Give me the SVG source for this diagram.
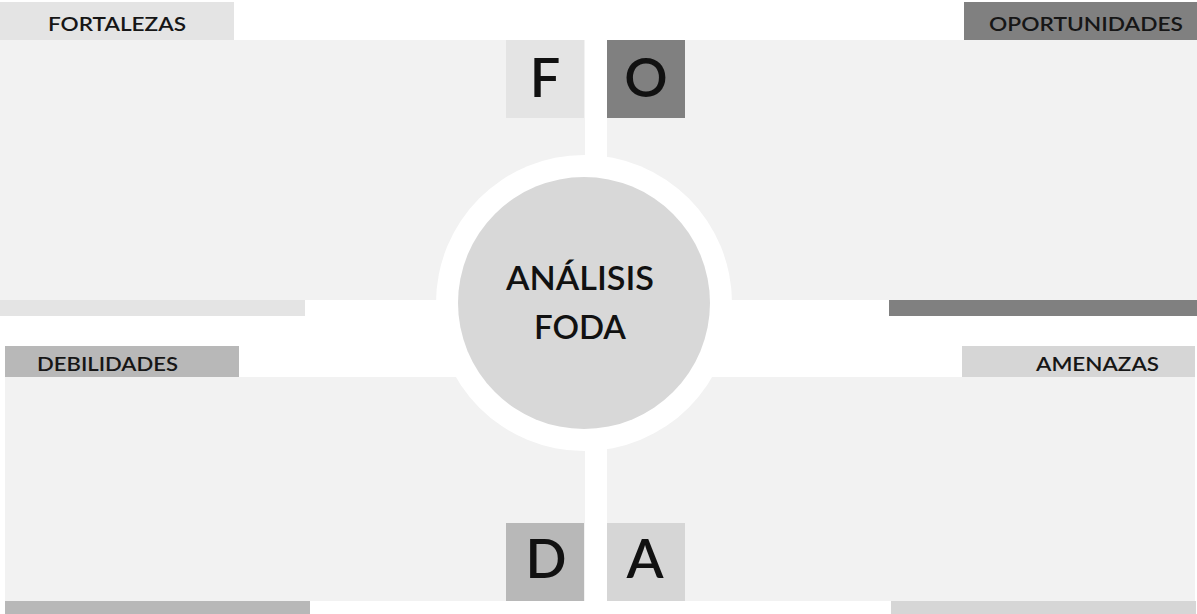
<svg xmlns="http://www.w3.org/2000/svg" width="1197" height="614" viewBox="0 0 1197 614">
<style>
.panel{fill:#f2f2f2}
.hdr{font-family:Lato,"Liberation Sans",sans-serif;font-weight:600;font-size:20px;fill:#161616}
.big{font-family:Lato,"Liberation Sans",sans-serif;font-weight:600;font-size:54px;fill:#111;text-anchor:middle}
.center{font-family:Lato,"Liberation Sans",sans-serif;font-weight:600;font-size:33px;fill:#111;text-anchor:middle}
</style>
<rect width="1197" height="614" fill="#ffffff"/>
<g id="fortalezas">
<rect class="panel" x="0" y="40" width="585" height="260"/>
<rect x="0" y="2" width="234" height="38" fill="#e4e4e4"/>
<text class="hdr" x="48" y="31" textLength="138" lengthAdjust="spacingAndGlyphs">FORTALEZAS</text>
<rect x="0" y="300" width="305" height="16" fill="#e4e4e4"/>
<rect x="506" y="40" width="78" height="78" fill="#e4e4e4"/>
<text class="big" x="545" y="97">F</text>
</g>
<g id="oportunidades">
<rect class="panel" x="607" y="40" width="590" height="260"/>
<rect x="964" y="2" width="233" height="38" fill="#808080"/>
<text class="hdr" x="989" y="31" textLength="194" lengthAdjust="spacingAndGlyphs">OPORTUNIDADES</text>
<rect x="889" y="300" width="308" height="16" fill="#808080"/>
<rect x="607" y="40" width="78" height="78" fill="#808080"/>
<text class="big" x="646" y="97">O</text>
</g>
<g id="debilidades">
<rect class="panel" x="5" y="377" width="580" height="224"/>
<rect x="5" y="346" width="234" height="31" fill="#b8b8b8"/>
<text class="hdr" x="37" y="371" textLength="141" lengthAdjust="spacingAndGlyphs">DEBILIDADES</text>
<rect x="5" y="601" width="305" height="13" fill="#b8b8b8"/>
<rect x="506" y="523" width="78" height="78" fill="#b8b8b8"/>
<text class="big" x="546" y="578">D</text>
</g>
<g id="amenazas">
<rect class="panel" x="607" y="377" width="588" height="224"/>
<rect x="962" y="346" width="233" height="31" fill="#d6d6d6"/>
<text class="hdr" x="1036" y="371" textLength="123" lengthAdjust="spacingAndGlyphs">AMENAZAS</text>
<rect x="891" y="601" width="305" height="13" fill="#d6d6d6"/>
<rect x="607" y="523" width="78" height="78" fill="#d6d6d6"/>
<text class="big" x="645" y="578">A</text>
</g>
<g id="analisis-foda">
<circle cx="584" cy="303" r="148" fill="#ffffff"/>
<circle cx="584" cy="303" r="126" fill="#d8d8d8"/>
<text class="center" x="580" y="290" textLength="148" lengthAdjust="spacingAndGlyphs">ANÁLISIS</text>
<text class="center" x="580" y="339">FODA</text>
</g>
<g id="connectors"/>
</svg>
